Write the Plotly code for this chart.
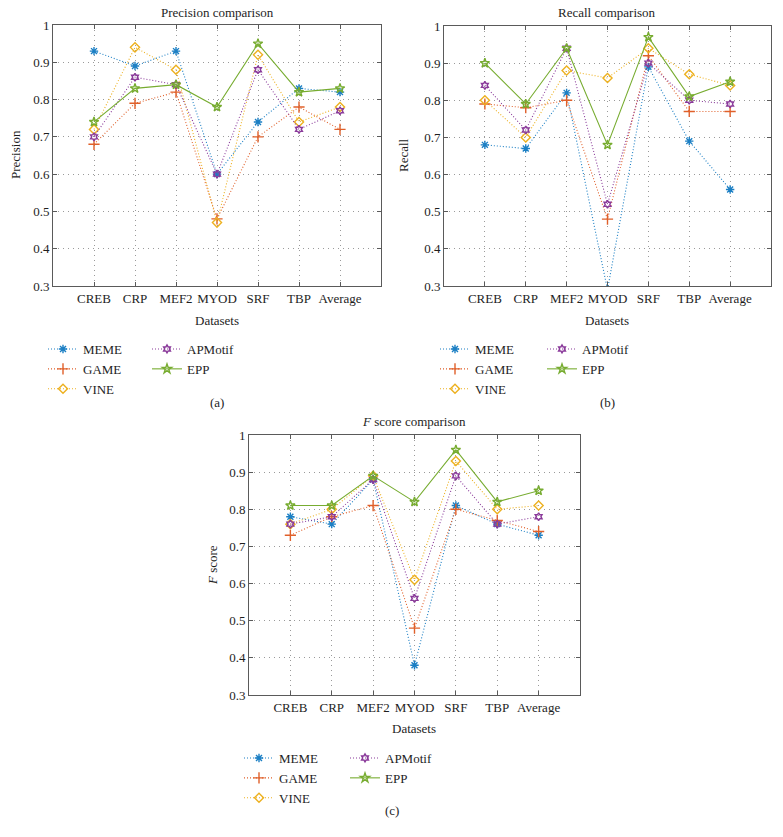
import plotly.graph_objects as go

# ---- data ----
DATASETS = ["CREB", "CRP", "MEF2", "MYOD", "SRF", "TBP", "Average"]
METHODS = ["MEME", "GAME", "VINE", "APMotif", "EPP"]

PRECISION_MEME = [0.93, 0.89, 0.93, 0.60, 0.74, 0.83, 0.82]
PRECISION_GAME = [0.68, 0.79, 0.82, 0.48, 0.70, 0.78, 0.72]
PRECISION_VINE = [0.72, 0.94, 0.88, 0.47, 0.92, 0.74, 0.78]
PRECISION_APMOTIF = [0.70, 0.86, 0.84, 0.60, 0.88, 0.72, 0.77]
PRECISION_EPP = [0.74, 0.83, 0.84, 0.78, 0.95, 0.82, 0.83]

RECALL_MEME = [0.68, 0.67, 0.82, 0.29, 0.89, 0.69, 0.56]
RECALL_GAME = [0.79, 0.78, 0.80, 0.48, 0.92, 0.77, 0.77]
RECALL_VINE = [0.80, 0.70, 0.88, 0.86, 0.94, 0.87, 0.84]
RECALL_APMOTIF = [0.84, 0.72, 0.94, 0.52, 0.90, 0.80, 0.79]
RECALL_EPP = [0.90, 0.79, 0.94, 0.68, 0.97, 0.81, 0.85]

FSCORE_MEME = [0.78, 0.76, 0.88, 0.38, 0.81, 0.76, 0.73]
FSCORE_GAME = [0.73, 0.78, 0.81, 0.48, 0.80, 0.77, 0.74]
FSCORE_VINE = [0.76, 0.80, 0.89, 0.61, 0.93, 0.80, 0.81]
FSCORE_APMOTIF = [0.76, 0.78, 0.88, 0.56, 0.89, 0.76, 0.78]
FSCORE_EPP = [0.81, 0.81, 0.89, 0.82, 0.96, 0.82, 0.85]

Y_TICKS = [0.3, 0.4, 0.5, 0.6, 0.7, 0.8, 0.9, 1.0]
Y_TICK_LABELS = ["0.3", "0.4", "0.5", "0.6", "0.7", "0.8", "0.9", "1"]

W, H = 783, 837
FONT = "Liberation Serif"
TEXT_COLOR = "#1e1e1e"

STYLE = {
    "MEME": dict(color="#1b7fc4", symbol="asterisk-open", dash="1px,2px", size=7),
    "GAME": dict(color="#e0602a", symbol="cross-thin-open", dash="1px,2px", size=8),
    "VINE": dict(color="#edb120", symbol="diamond-open", dash="1px,2px", size=7),
    "APMotif": dict(color="#8a3a9a", symbol="hexagram-open", dash="1px,2px", size=6),
    "EPP": dict(color="#77ac30", symbol="star-open", dash="solid", size=7),
}


def px_x(v):
    return v / W


def px_y(v):
    return 1 - v / H


panels = [
    # (series, axis suffix, x px range, y px range, legends)
    ([PRECISION_MEME, PRECISION_GAME, PRECISION_VINE, PRECISION_APMOTIF, PRECISION_EPP],
     "", (53, 381), (25, 286), ("legend", "legend2")),
    ([RECALL_MEME, RECALL_GAME, RECALL_VINE, RECALL_APMOTIF, RECALL_EPP],
     "2", (444, 771), (26, 286), ("legend3", "legend4")),
    ([FSCORE_MEME, FSCORE_GAME, FSCORE_VINE, FSCORE_APMOTIF, FSCORE_EPP],
     "3", (249, 580), (435, 695), ("legend5", "legend6")),
]

fig = go.Figure()

for series, sfx, xr, yr, legs in panels:
    for i, (name, vals) in enumerate(zip(METHODS, series)):
        st = STYLE[name]
        fig.add_trace(go.Scatter(
            x=DATASETS, y=vals, name=name, mode="lines+markers",
            xaxis="x" + sfx, yaxis="y" + sfx,
            legend=legs[0] if i < 3 else legs[1],
            line=dict(color=st["color"], width=1.1, dash=st["dash"]),
            marker=dict(symbol=st["symbol"], size=st["size"], color=st["color"],
                        line=dict(width=1.4, color=st["color"])),
        ))

axis_common = dict(
    showline=True, linecolor="#5a5a5a", linewidth=1, mirror="ticks",
    ticks="inside", ticklen=4, tickcolor="#5a5a5a",
    showgrid=True, gridcolor="#9a9a9a", griddash="1px,4px", gridwidth=1,
    zeroline=False, automargin=False,
    tickfont=dict(family=FONT, size=13, color=TEXT_COLOR),
)

layout = dict(
    width=W, height=H, margin=dict(l=0, r=0, t=0, b=0, pad=0, autoexpand=False),
    paper_bgcolor="white", plot_bgcolor="white",
    font=dict(family=FONT, size=13, color=TEXT_COLOR),
)

for series, sfx, xr, yr, legs in panels:
    layout["xaxis" + sfx] = dict(
        axis_common, domain=[px_x(xr[0]), px_x(xr[1])], range=[-1, 7],
        type="category", anchor="y" + sfx,
    )
    layout["yaxis" + sfx] = dict(
        axis_common, domain=[px_y(yr[1]), px_y(yr[0])], range=[0.3, 1.0],
        tickvals=Y_TICKS, ticktext=Y_TICK_LABELS, anchor="x" + sfx,
    )

legend_pos = {
    "legend": (43, 334), "legend2": (147, 334),
    "legend3": (435, 334), "legend4": (542, 334),
    "legend5": (239, 743), "legend6": (345, 743),
}
for key, (lx, ly) in legend_pos.items():
    layout[key] = dict(
        x=px_x(lx), y=px_y(ly), xanchor="left", yanchor="top",
        bgcolor="rgba(0,0,0,0)", font=dict(family=FONT, size=13, color=TEXT_COLOR),
        tracegroupgap=0,
    )

fig.update_layout(**layout)

texts = [
    ("Precision comparison", 217, 13, 0),
    ("Recall comparison", 607, 13, 0),
    ("<i>F</i> score comparison", 414, 422, 0),
    ("Datasets", 217, 320, 0),
    ("Datasets", 607, 320, 0),
    ("Datasets", 414, 728, 0),
    ("Precision", 16, 155, -90),
    ("Recall", 404, 155, -90),
    ("<i>F</i> score", 212, 565, -90),
    ("(a)", 217, 403, 0),
    ("(b)", 607, 403, 0),
    ("(c)", 392, 810, 0),
]
for txt, tx, ty, ang in texts:
    fig.add_annotation(
        text=txt, x=px_x(tx), y=px_y(ty), xref="paper", yref="paper",
        showarrow=False, textangle=ang, xanchor="center", yanchor="middle",
        font=dict(family=FONT, size=13, color=TEXT_COLOR),
    )

fig.write_html("out.html", post_script="document.body.style.margin='0px';",
               config={"displayModeBar": False})
